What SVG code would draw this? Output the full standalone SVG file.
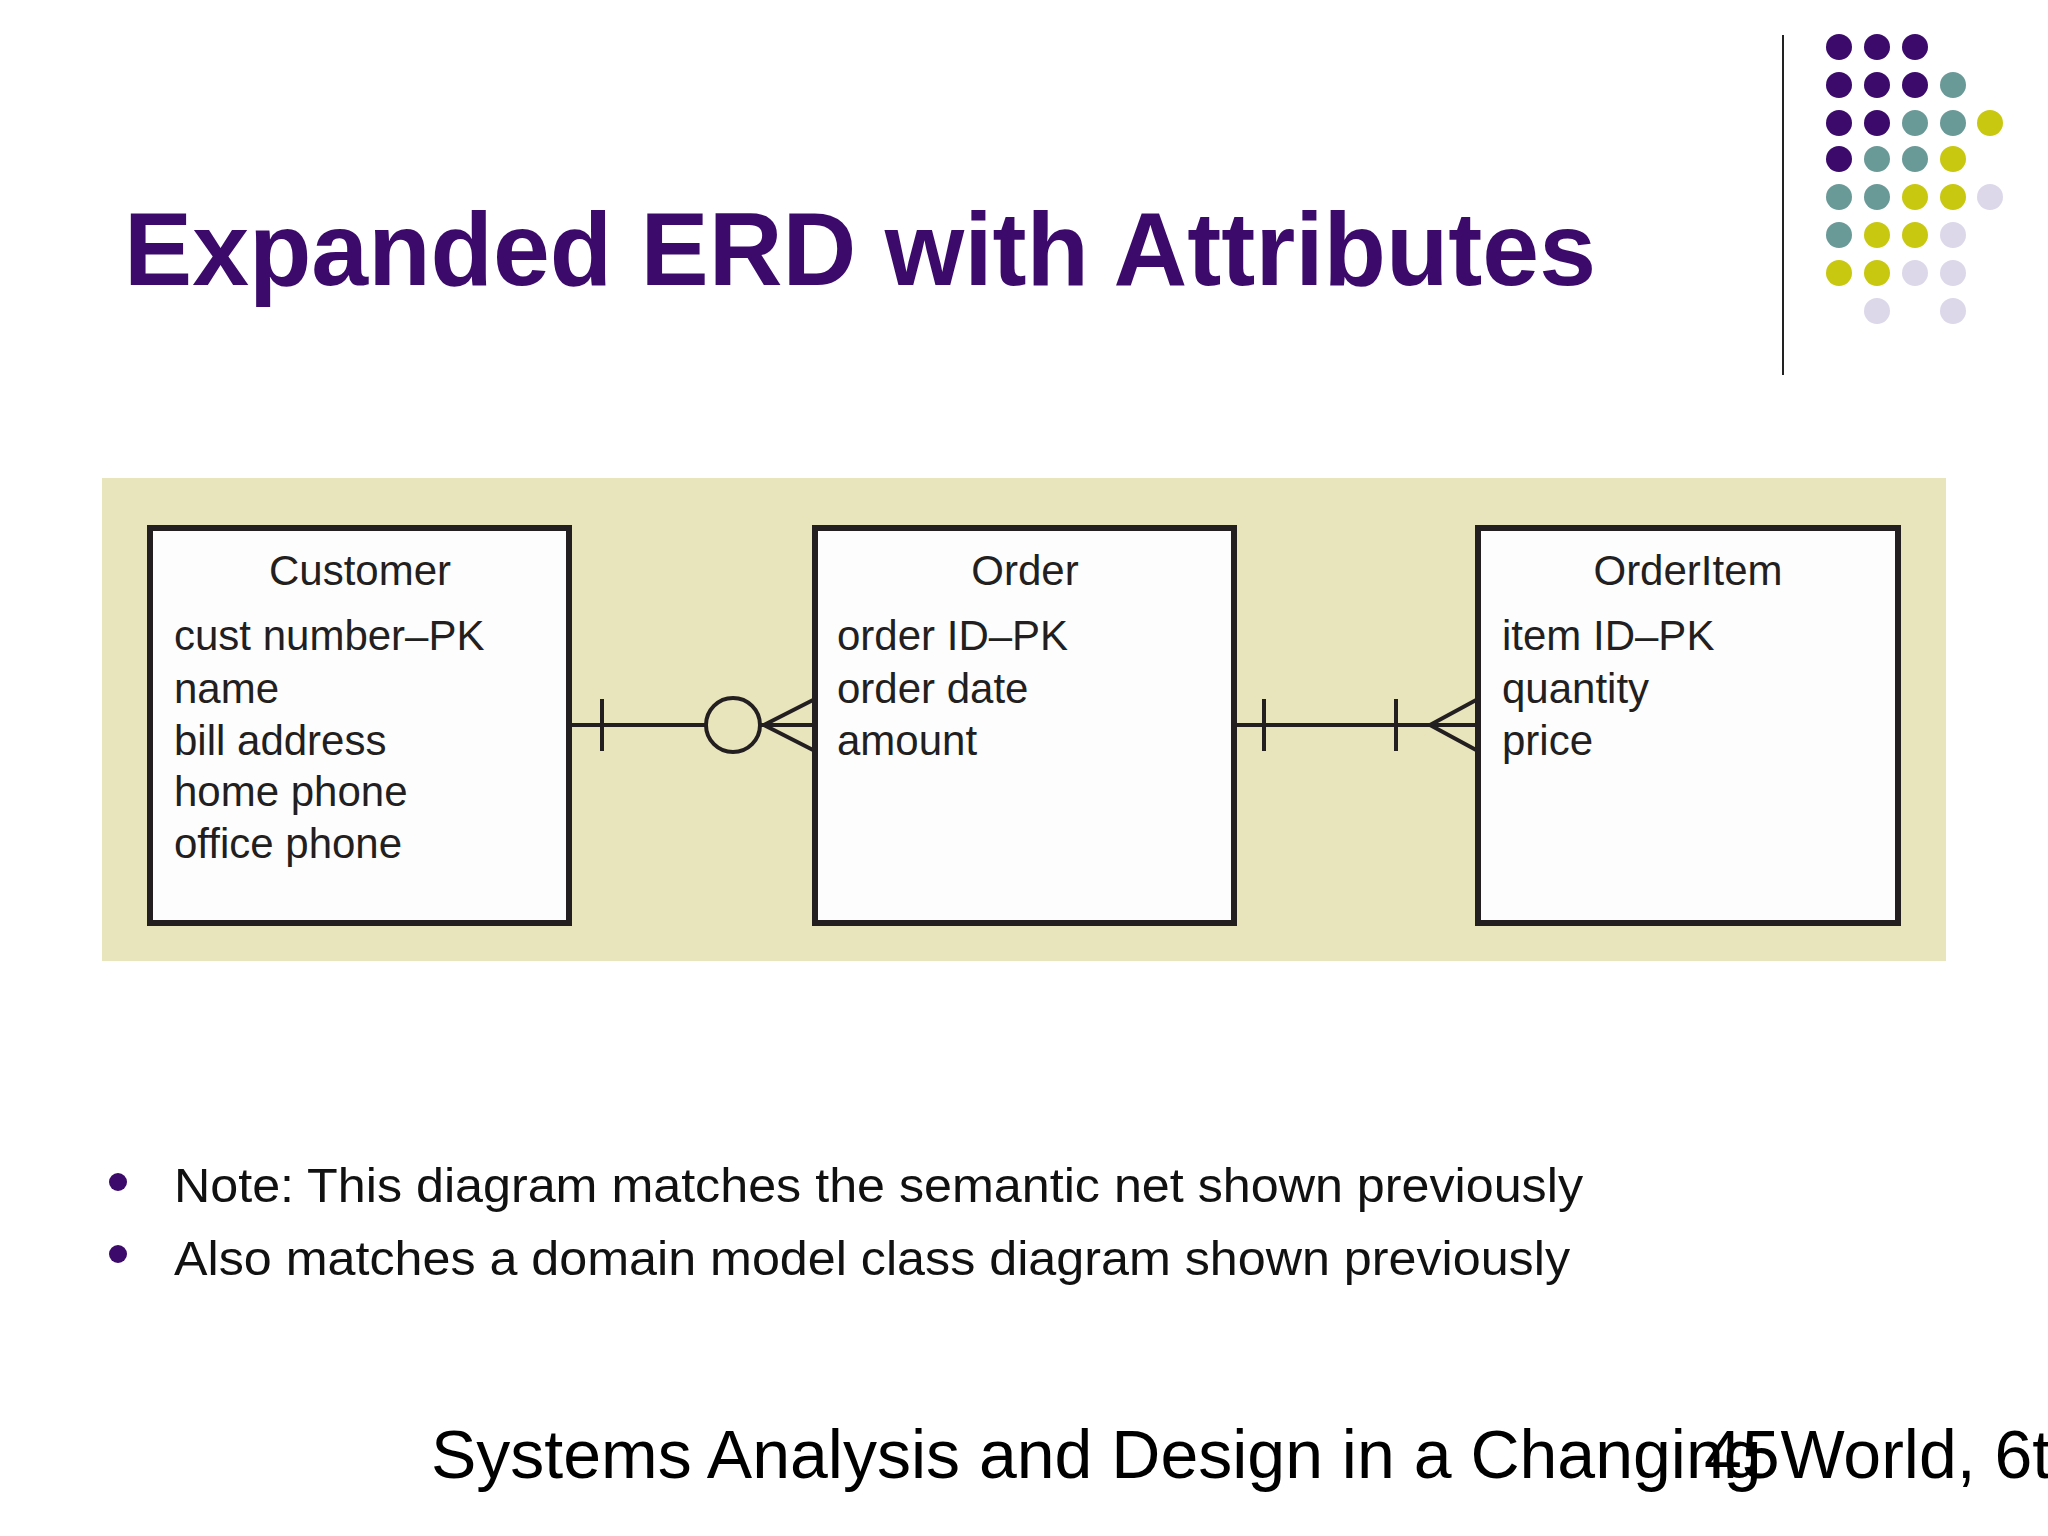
<svg xmlns="http://www.w3.org/2000/svg" width="2048" height="1536" viewBox="0 0 2048 1536">
<style>
.t{font-family:"Liberation Sans",Arial,sans-serif}
.box{fill:#fdfdfe;stroke:#231f20;stroke-width:6}
.ln{stroke:#231f20;stroke-width:4;fill:none}
.at{font-family:"Liberation Sans",Arial,sans-serif;font-size:42px;fill:#231f20}
.P{fill:#3b0a6b}.T{fill:#6a9a98}.Y{fill:#c8c810}.L{fill:#dcd8ea}
</style>
<rect width="2048" height="1536" fill="#ffffff"/>
<text class="t" x="124" y="285" font-size="104" font-weight="bold" fill="#3b0a6b" textLength="1472" lengthAdjust="spacingAndGlyphs">Expanded ERD with Attributes</text>
<line x1="1783" y1="35" x2="1783" y2="375" stroke="#222" stroke-width="2"/>
<g id="dots">
<circle class="P" cx="1839" cy="47" r="13"/><circle class="P" cx="1877" cy="47" r="13"/><circle class="P" cx="1915" cy="47" r="13"/>
<circle class="P" cx="1839" cy="85" r="13"/><circle class="P" cx="1877" cy="85" r="13"/><circle class="P" cx="1915" cy="85" r="13"/><circle class="T" cx="1953" cy="85" r="13"/>
<circle class="P" cx="1839" cy="123" r="13"/><circle class="P" cx="1877" cy="123" r="13"/><circle class="T" cx="1915" cy="123" r="13"/><circle class="T" cx="1953" cy="123" r="13"/><circle class="Y" cx="1990" cy="123" r="13"/>
<circle class="P" cx="1839" cy="159" r="13"/><circle class="T" cx="1877" cy="159" r="13"/><circle class="T" cx="1915" cy="159" r="13"/><circle class="Y" cx="1953" cy="159" r="13"/>
<circle class="T" cx="1839" cy="197" r="13"/><circle class="T" cx="1877" cy="197" r="13"/><circle class="Y" cx="1915" cy="197" r="13"/><circle class="Y" cx="1953" cy="197" r="13"/><circle class="L" cx="1990" cy="197" r="13"/>
<circle class="T" cx="1839" cy="235" r="13"/><circle class="Y" cx="1877" cy="235" r="13"/><circle class="Y" cx="1915" cy="235" r="13"/><circle class="L" cx="1953" cy="235" r="13"/>
<circle class="Y" cx="1839" cy="273" r="13"/><circle class="Y" cx="1877" cy="273" r="13"/><circle class="L" cx="1915" cy="273" r="13"/><circle class="L" cx="1953" cy="273" r="13"/>
<circle class="L" cx="1877" cy="311" r="13"/><circle class="L" cx="1953" cy="311" r="13"/>
</g>
<rect x="102" y="478" width="1844" height="483" fill="#e8e4bc"/>
<g id="connectors">
<line class="ln" x1="569" y1="725" x2="815" y2="725"/>
<line class="ln" x1="602" y1="699" x2="602" y2="751"/>
<circle cx="733" cy="725" r="27" fill="#e8e4bc" stroke="#231f20" stroke-width="4"/>
<path class="ln" d="M815 699 L764 725 L815 751"/>
<line class="ln" x1="1234" y1="725" x2="1478" y2="725"/>
<line class="ln" x1="1264" y1="699" x2="1264" y2="751"/>
<line class="ln" x1="1396" y1="699" x2="1396" y2="751"/>
<path class="ln" d="M1478 699 L1430 725 L1478 751"/>
</g>
<g id="customer">
<rect class="box" x="150" y="528" width="419" height="395"/>
<text class="at" x="360" y="585" text-anchor="middle" font-size="46">Customer</text>
<text class="at" x="174" y="650">cust number–PK</text>
<text class="at" x="174" y="703">name</text>
<text class="at" x="174" y="755">bill address</text>
<text class="at" x="174" y="806">home phone</text>
<text class="at" x="174" y="858">office phone</text>
</g>
<g id="order">
<rect class="box" x="815" y="528" width="419" height="395"/>
<text class="at" x="1025" y="585" text-anchor="middle" font-size="46">Order</text>
<text class="at" x="837" y="650">order ID–PK</text>
<text class="at" x="837" y="703">order date</text>
<text class="at" x="837" y="755">amount</text>
</g>
<g id="orderitem">
<rect class="box" x="1478" y="528" width="420" height="395"/>
<text class="at" x="1688" y="585" text-anchor="middle" font-size="46">OrderItem</text>
<text class="at" x="1502" y="650">item ID–PK</text>
<text class="at" x="1502" y="703">quantity</text>
<text class="at" x="1502" y="755">price</text>
</g>
<circle cx="118" cy="1182" r="9" fill="#3b0a6b"/>
<circle cx="118" cy="1254" r="9" fill="#3b0a6b"/>
<text class="t" x="174" y="1202" font-size="48" fill="#111" textLength="1409" lengthAdjust="spacingAndGlyphs">Note: This diagram matches the semantic net shown previously</text>
<text class="t" x="174" y="1275" font-size="48" fill="#111" textLength="1396" lengthAdjust="spacingAndGlyphs">Also matches a domain model class diagram shown previously</text>
<text class="t" x="431" y="1478" font-size="68" fill="#000">Systems Analysis and Design in a Changing World, 6th</text>
<text class="t" x="1704" y="1478" font-size="68" fill="#000">45</text>
</svg>
